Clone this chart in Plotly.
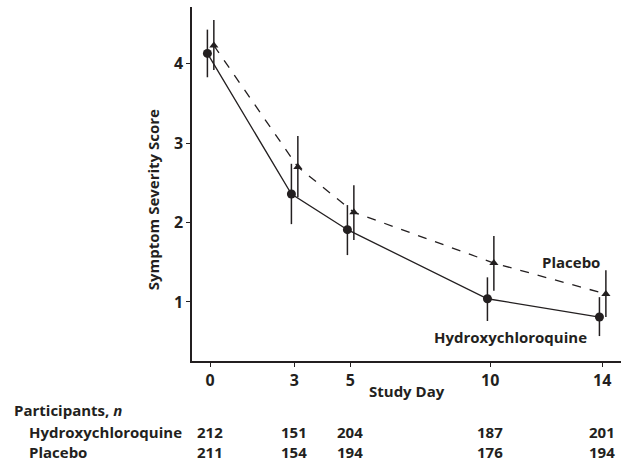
import plotly.graph_objects as go

days = [0, 3, 5, 10, 14]
hcq_mean = [4.13, 2.36, 1.91, 1.04, 0.81]
hcq_upper = [4.43, 2.74, 2.22, 1.31, 1.06]
hcq_lower = [3.83, 1.98, 1.59, 0.76, 0.57]
pla_mean = [4.23, 2.70, 2.13, 1.49, 1.10]
pla_upper = [4.55, 3.09, 2.47, 1.83, 1.40]
pla_lower = [3.92, 2.32, 1.78, 1.14, 0.81]
hcq_n = [212, 151, 204, 187, 201]
pla_n = [211, 154, 194, 176, 194]
y_ticks = [1, 2, 3, 4]

FONT = "Open Sans"
FS = 15
WT = 700
INK = "#231f20"
HCQ_OFF = -0.1
PLA_OFF = 0.13

fig = go.Figure()
fig.add_trace(go.Scatter(
    x=[d + PLA_OFF for d in days], y=pla_mean, mode="lines+markers",
    line=dict(color=INK, width=1.3, dash="dash"),
    marker=dict(symbol="triangle-up", size=8, color=INK),
    error_y=dict(type="data", symmetric=False,
                 array=[u - m for u, m in zip(pla_upper, pla_mean)],
                 arrayminus=[m - l for m, l in zip(pla_mean, pla_lower)],
                 width=0, thickness=1.5, color=INK),
    showlegend=False))
fig.add_trace(go.Scatter(
    x=[d + HCQ_OFF for d in days], y=hcq_mean, mode="lines+markers",
    line=dict(color=INK, width=1.3),
    marker=dict(symbol="circle", size=9, color=INK),
    error_y=dict(type="data", symmetric=False,
                 array=[u - m for u, m in zip(hcq_upper, hcq_mean)],
                 arrayminus=[m - l for m, l in zip(hcq_mean, hcq_lower)],
                 width=0, thickness=1.5, color=INK),
    showlegend=False))

tickfont = dict(family=FONT, size=16, color=INK, weight=WT)
fig.update_layout(
    width=636, height=462,
    margin=dict(l=192, r=15, t=7, b=101),
    plot_bgcolor="white", paper_bgcolor="white",
    font=dict(family=FONT, size=FS, color=INK, weight=WT),
    xaxis=dict(range=[-0.65, 14.67], tickvals=days, ticktext=[str(d) for d in days],
               showgrid=False, zeroline=False, showline=True, linecolor=INK,
               linewidth=1.5, ticks="outside", ticklen=4, tickwidth=1.2,
               tickcolor=INK, tickfont=tickfont),
    yaxis=dict(range=[0.256, 4.715], tickvals=y_ticks,
               showgrid=False, zeroline=False, showline=True, linecolor=INK,
               linewidth=1.5, ticks="outside", ticklen=4, tickwidth=1.2,
               tickcolor=INK, tickfont=tickfont),
)

def ann(text, x, y, xref="x", yref="y", xanchor="center", **kw):
    fig.add_annotation(text=text, x=x, y=y, xref=xref, yref=yref, xanchor=xanchor,
                       yanchor="middle", showarrow=False,
                       font=dict(family=FONT, size=FS, color=INK, weight=WT), **kw)

ann("Placebo", 12.9, 1.507)
ann("Hydroxychloroquine", 10.71, 0.561)
ann("Study Day", 0.5, -0.084, xref="paper", yref="paper")
ann("Symptom Severity Score", -0.09, 2.285, xref="paper", textangle=-90)

ann("Participants, <i>n</i>", -0.42, -0.138, xref="paper", yref="paper", xanchor="left")
ann("Hydroxychloroquine", -0.385, -0.2, xref="paper", yref="paper", xanchor="left")
ann("Placebo", -0.385, -0.256, xref="paper", yref="paper", xanchor="left")
for d, a, b in zip(days, hcq_n, pla_n):
    ann(str(a), d, -0.2, yref="paper")
    ann(str(b), d, -0.256, yref="paper")

fig.write_html("out.html", config={"displayModeBar": False},
               post_script="document.body.style.margin='0';document.body.style.padding='0';")
